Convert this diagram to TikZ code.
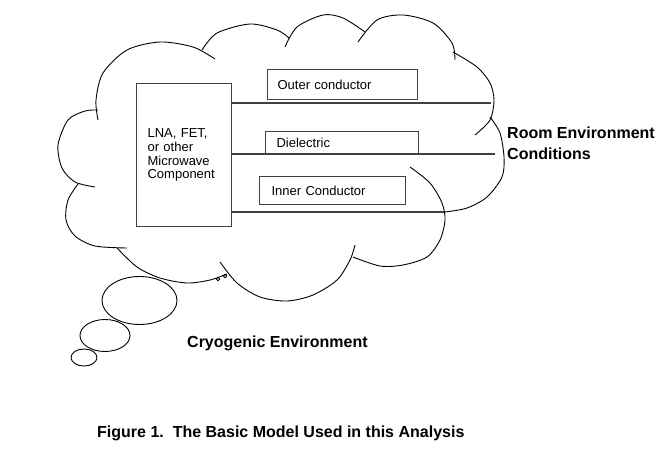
\documentclass[tikz,border=0pt]{standalone}
\usepackage{fontspec}
\setmainfont{Liberation Sans}
\definecolor{boxgray}{HTML}{404040}
\begin{document}
\begin{tikzpicture}[
        x=1pt, y=-1pt,
        part/.style={draw=boxgray, line width=1.2pt, align=left, inner ysep=0pt,
            font=\fontsize{13}{13.8}\selectfont},
        wire/.style={draw=boxgray, line width=1.2pt},
        bump/.style={draw, line width=0.9pt},
        bubble/.style={draw, line width=0.9pt},
        title/.style={font=\fontsize{16}{20.7}\selectfont\bfseries, align=left, inner sep=0pt},
    ]
    \useasboundingbox (0,0) rectangle (661,452);
    \node[part, anchor=north west, text width=73pt, inner xsep=11pt, minimum height=143pt](comp) at (136,83)
        {LNA, FET,\\or other\\Microwave\\Component\\[6pt]};
    \node[part, anchor=north west, text width=130pt, inner xsep=10pt, minimum height=30pt](outer) at (267,69)
        {Outer conductor};
    \node[part, anchor=north west, text width=131pt, inner xsep=11pt, minimum height=23pt](diel) at (265,131)
        {Dielectric};
    \node[part, anchor=north west, text width=122pt, inner xsep=12pt, minimum height=28pt](inner) at (259,176)
        {Inner Conductor};
    \coordinate (e1) at (491,103);
    \coordinate (e2) at (495,154);
    \coordinate (e3) at (445,212);
    \draw[wire] (comp.east |- e1) -- (e1);
    \draw[wire] (comp.east |- e2) -- (e2);
    \draw[wire] (comp.east |- e3) -- (e3);
    % cloud
    \draw[bump] plot[smooth] coordinates {(98,120) (96,100) (103,73) (127,50) (160,42) (193,47) (215,59)};
    \draw[bump] plot[smooth] coordinates {(202,50) (217,33) (250,24) (277,30) (289,38)};
    \draw[bump] plot[smooth] coordinates {(285,47) (297,27) (323,15) (343,18) (365,32)};
    \draw[bump] plot[smooth] coordinates {(358,42) (377,20) (403,15) (433,23) (452,43) (455,60)};
    \draw[bump] plot[smooth] coordinates {(453,52) (477,67) (490,83) (494,100) (490,120) (475,135)};
    \draw[bump] plot[smooth] coordinates {(490,117) (500,133) (504,157) (502,177) (487,197) (467,208) (445,212)};
    \draw[bump] plot[smooth] coordinates {(410,167) (430,183) (442,203) (445,220) (440,240) (427,257) (403,265) (380,266) (353,257)};
    \draw[bump] plot[smooth] coordinates {(355,245) (350,260) (337,280) (313,295) (287,301) (260,297) (237,283) (220,262)};
    \draw[bump] plot[smooth] coordinates {(117,248) (137,267) (160,278) (187,283) (210,280) (227,274)};
    \draw[bump] plot[smooth] coordinates {(78,184) (68,200) (66,220) (75,236) (95,246) (127,248)};
    \draw[bump] plot[smooth] coordinates {(98,110) (85,111) (68,120) (58,145) (62,168) (75,182) (95,187)};
    \draw[bump] (218,279) circle[radius=1.8pt] (225,276) circle[radius=1.8pt];
    % thought bubbles
    \draw[bubble] (139.5,300.5) ellipse[x radius=37.5pt, y radius=24pt];
    \draw[bubble] (105,335.5) ellipse[x radius=25pt, y radius=16pt];
    \draw[bubble] (84,357.5) ellipse[x radius=13pt, y radius=8.5pt];
    \node[title, anchor=west](room) at (507,143.5) {Room Environment\\Conditions};
    \node[title, anchor=west](cryo) at (187,343) {Cryogenic Environment};
    \node[title, anchor=west](caption) at (97,433) {Figure 1.\ \ The Basic Model Used in this Analysis};
\end{tikzpicture}
\end{document}
